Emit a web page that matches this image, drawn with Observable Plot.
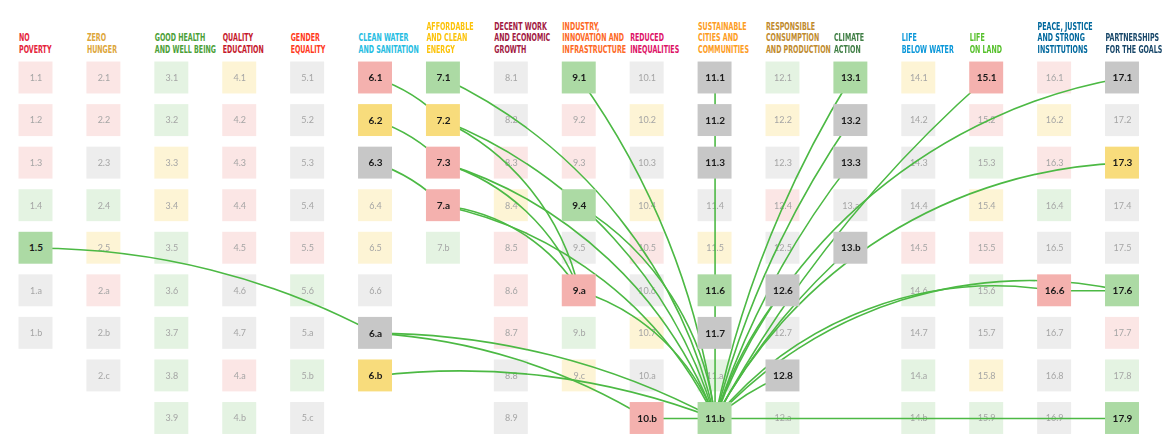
<!DOCTYPE html>
<html><head><meta charset="utf-8">
<script src="https://cdn.jsdelivr.net/npm/d3@7"></script>
<script src="https://cdn.jsdelivr.net/npm/@observablehq/plot@0.6"></script>
<style>body{margin:0;background:#fff}#chart{width:1166px;height:440px}</style>
</head><body><div id="chart"></div>
<script>
const goalNames = [
  "NO\nPOVERTY", "ZERO\nHUNGER", "GOOD HEALTH\nAND WELL BEING", "QUALITY\nEDUCATION",
  "GENDER\nEQUALITY", "CLEAN WATER\nAND SANITATION", "AFFORDABLE\nAND CLEAN\nENERGY",
  "DECENT WORK\nAND ECONOMIC\nGROWTH", "INDUSTRY,\nINNOVATION AND\nINFRASTRUCTURE",
  "REDUCED\nINEQUALITIES", "SUSTAINABLE\nCITIES AND\nCOMMUNITIES",
  "RESPONSIBLE\nCONSUMPTION\nAND PRODUCTION", "CLIMATE\nACTION", "LIFE\nBELOW WATER",
  "LIFE\nON LAND", "PEACE, JUSTICE\nAND STRONG\nINSTITUTIONS", "PARTNERSHIPS\nFOR THE GOALS"
];
const goalColors = ["#e5243b","#dda63a","#4c9f38","#c5192d","#ff3a21","#26bde2","#fcc30b",
  "#a21942","#fd6925","#dd1367","#fd9d24","#bf8b2e","#3f7e44","#0a97d9","#56c02b","#00689d","#19486a"];

const targetLabels = [
  ["1.1","1.2","1.3","1.4","1.5","1.a","1.b"],
  ["2.1","2.2","2.3","2.4","2.5","2.a","2.b","2.c"],
  ["3.1","3.2","3.3","3.4","3.5","3.6","3.7","3.8","3.9"],
  ["4.1","4.2","4.3","4.4","4.5","4.6","4.7","4.a","4.b"],
  ["5.1","5.2","5.3","5.4","5.5","5.6","5.a","5.b","5.c"],
  ["6.1","6.2","6.3","6.4","6.5","6.6","6.a","6.b"],
  ["7.1","7.2","7.3","7.a","7.b"],
  ["8.1","8.2","8.3","8.4","8.5","8.6","8.7","8.8","8.9"],
  ["9.1","9.2","9.3","9.4","9.5","9.a","9.b","9.c"],
  ["10.1","10.2","10.3","10.4","10.5","10.6","10.7","10.a","10.b"],
  ["11.1","11.2","11.3","11.4","11.5","11.6","11.7","11.a","11.b"],
  ["12.1","12.2","12.3","12.4","12.5","12.6","12.7","12.8","12.a"],
  ["13.1","13.2","13.3","13.a","13.b"],
  ["14.1","14.2","14.3","14.4","14.5","14.6","14.7","14.a","14.b"],
  ["15.1","15.2","15.3","15.4","15.5","15.6","15.7","15.8","15.9"],
  ["16.1","16.2","16.3","16.4","16.5","16.6","16.7","16.8","16.9"],
  ["17.1","17.2","17.3","17.4","17.5","17.6","17.7","17.8","17.9"]
];
// tone category per target: p = pink, y = yellow, g = green, k = grey
const targetTones = [
  "pppggkk", "ppkgypkk", "ggyyggggg", "yppppkkpg", "kkkkpgkgk", "pykyykky", "gyppg",
  "kkpypppkkk", "gppgkpgy", "kykypkykp", "kkkkygkgg", "gykpkkkkg", "gkkkk",
  "ykkkpgkgg", "ppgypgkyg", "pypgkpkkk", "kkykkgpgg"
];
const highlighted = ["1.5","6.1","6.2","6.3","6.a","6.b","7.1","7.2","7.3","7.a","9.1","9.4","9.a",
  "10.b","11.1","11.2","11.3","11.6","11.7","11.b","12.6","12.8","13.1","13.2","13.3","13.b",
  "15.1","16.6","17.1","17.3","17.6","17.9"];

const linksStraight = [["11.1","11.b"],["10.b","11.b"],["11.b","17.9"],["16.6","17.6"]];
const linksGentle = [["1.5","6.a"],["6.1","7.2"],["6.2","7.3"],["6.3","7.a"],["6.a","11.b"],
  ["6.a","10.b"],["6.b","11.b"],["9.1","11.b"]];
const linksArc = [["7.1","11.b"],["7.2","11.b"],["7.3","11.b"],["7.a","11.b"],["7.2","9.a"],
  ["7.3","9.a"],["7.a","9.a"],["9.4","11.b"],["9.a","11.b"]];
const linksSteep = [["13.1","11.b"],["13.2","11.b"],["13.3","11.b"],["12.6","11.b"],
  ["12.8","11.b"],["13.b","11.b"],["15.1","11.b"]];
const linksWide = [["17.1","11.b"],["17.3","11.b"],["16.6","11.b"],["17.6","11.b"]];

const toneColor = {p: "#f4b1ae", y: "#f8dc7c", g: "#acdaa4", k: "#c7c7c7"};

const cells = [];
targetLabels.forEach((col, i) => col.forEach((label, j) => cells.push({
  goal: i + 1, row: j + 1, label, tone: targetTones[i][j], hl: highlighted.includes(label)
})));
const byLabel = new Map(cells.map(d => [d.label, d]));
const goals = goalNames.map((name, i) => ({goal: i + 1, name, color: goalColors[i]}));
const toLinks = arr => arr.map(([a, b]) => ({a: byLabel.get(a), b: byLabel.get(b)}));

const faint = cells.filter(d => !d.hl);
const strong = cells.filter(d => d.hl);
const lineStyle = {
  x1: d => d.a.goal, y1: d => d.a.row, x2: d => d.b.goal, y2: d => d.b.row,
  stroke: "#4cb944", strokeWidth: 1.6, headLength: 0
};
const box = {
  x1: d => d.goal - 0.25, x2: d => d.goal + 0.25,
  y1: d => d.row - 0.375, y2: d => d.row + 0.375,
  fill: d => toneColor[d.tone]
};

const plot = Plot.plot({
  width: 1166, height: 440,
  margin: 0,
  x: {domain: [1, 17], range: [35.5, 1122], axis: null},
  y: {domain: [1, 9], range: [77.5, 418], axis: null},
  style: {background: "#fff"},
  marks: [
    Plot.rect(faint, {...box, fillOpacity: 0.32, ariaDescription: "faint"}),
    Plot.text(faint, {x: "goal", y: "row", text: "label", fill: "#a5a5a5", fontSize: 9,
      fontFamily: "Lato, sans-serif", ariaDescription: "faint"}),
    Plot.arrow(toLinks(linksStraight), {...lineStyle, bend: 0}),
    Plot.arrow(toLinks(linksGentle), {...lineStyle, bend: 14}),
    Plot.arrow(toLinks(linksArc), {...lineStyle, bend: 26}),
    Plot.arrow(toLinks(linksSteep), {...lineStyle, bend: -10}),
    Plot.arrow(toLinks(linksWide), {...lineStyle, bend: -30}),
    Plot.rect(strong, box),
    Plot.text(strong, {x: "goal", y: "row", text: "label", fill: "#1a1a1a", fontSize: 10,
      fontWeight: 700, fontFamily: "Lato, sans-serif"}),
    Plot.text(goals, {x: "goal", text: "name", fill: "color", frameAnchor: "top",
      dy: 52, dx: -17, textAnchor: "start", lineAnchor: "bottom", lineHeight: 1.03,
      fontSize: 11, fontWeight: 700, ariaDescription: "header",
      fontFamily: "'Liberation Sans Narrow', 'DejaVu Sans Condensed', sans-serif"})
  ]
});

const svg = d3.select(plot);
svg.append("defs").append("filter").attr("id", "soft")
  .append("feGaussianBlur").attr("stdDeviation", 0.6);
svg.selectAll("[aria-description=faint]").attr("filter", "url(#soft)");
svg.selectAll("[aria-description=header] text").each(function() {
  const t = d3.select(this);
  t.attr("transform", (t.attr("transform") || "") + " scale(0.64,1)");
});
document.getElementById("chart").appendChild(plot);
</script></body></html>
